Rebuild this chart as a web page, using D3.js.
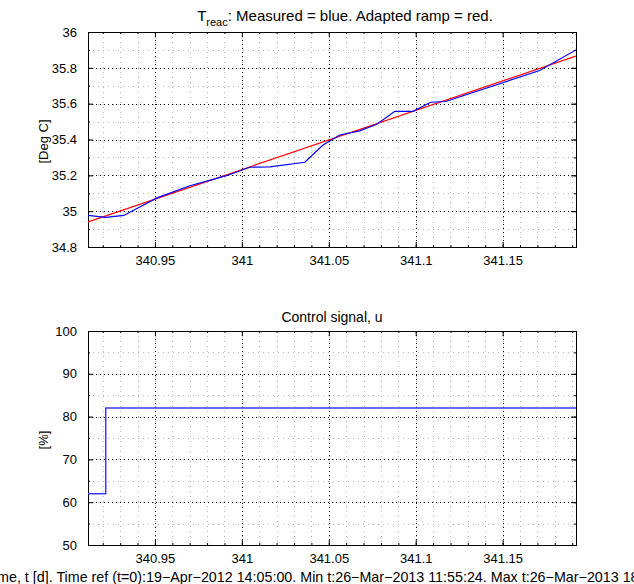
<!DOCTYPE html>
<html>
<head>
<meta charset="utf-8">
<script src="https://cdn.jsdelivr.net/npm/d3@7"></script>
<style>
  body { margin: 0; background: #fff; }
  text { font-family: "Liberation Sans", Arial, sans-serif; fill: #000; }
</style>
</head>
<body>
<svg id="chart" width="634" height="584"></svg>
<script>
// time axis [d]
var tMeasured = [340.9115, 340.9216, 340.9321, 340.941, 340.9512, 340.9701, 340.9912, 341.0046,
  341.0161, 341.0362, 341.0467, 341.0563, 341.0678, 341.0776, 341.088, 341.0985, 341.1086,
  341.1172, 341.1713, 341.1922];
var tempMeasured = [34.977, 34.965, 34.976, 35.022, 35.074, 35.142, 35.198, 35.245,
  35.247, 35.273, 35.369, 35.425, 35.448, 35.485, 35.557, 35.557, 35.608,
  35.612, 35.785, 35.90];
var tRamp = [340.9115, 341.1922];
var tempRamp = [34.94, 35.866];
var tControl = [340.9115, 340.9217, 341.1922];
var uControl = [62, 82, 82];

var xTicks = [340.95, 341, 341.05, 341.1, 341.15];
var tempTicks = [34.8, 35, 35.2, 35.4, 35.6, 35.8, 36];
var uTicks = [50, 60, 70, 80, 90, 100];

var xDomain = [340.9115, 341.1922];
var titleTop = "Measured = blue. Adapted ramp = red.";
var titleBottom = "Control signal, u";
var xLabel = "Time, t [d]. Time ref (t=0):19\u2212Apr\u22122012 14:05:00. Min t:26\u2212Mar\u22122013 11:55:24. Max t:26\u2212Mar\u22122013 18:41:31";

var svg = d3.select("#chart");
var left = 88, right = 576;
var tickFont = "13px", labelFont = "14px";

var xScale = d3.scaleLinear().domain(xDomain).range([left, right]);
var fmt = function (d) { return String(+d.toFixed(2)); };

function drawPanel(top, bottom, yDomain, yTicks, yMinorStep, ylabel) {
  var yScale = d3.scaleLinear().domain(yDomain).range([bottom, top]);
  var g = svg.append("g");

  var xMinor = d3.range(Math.ceil(xDomain[0] * 100), Math.floor(xDomain[1] * 100) + 1)
    .map(function (d) { return d / 100; });
  var nY = Math.round((yDomain[1] - yDomain[0]) / yMinorStep);
  var yMinor = d3.range(0, nY + 1).map(function (i) { return yDomain[0] + i * yMinorStep; });

  // minor grid
  g.selectAll(".xminor").data(xMinor).enter().append("line")
    .attr("x1", function (d) { return Math.round(xScale(d)) + 0.5; })
    .attr("x2", function (d) { return Math.round(xScale(d)) + 0.5; })
    .attr("y1", top).attr("y2", bottom)
    .attr("stroke", "#b4b4b4").attr("stroke-dasharray", "1,4");
  g.selectAll(".yminor").data(yMinor).enter().append("line")
    .attr("y1", function (d) { return Math.round(yScale(d)) + 0.5; })
    .attr("y2", function (d) { return Math.round(yScale(d)) + 0.5; })
    .attr("x1", left).attr("x2", right)
    .attr("stroke", "#b4b4b4").attr("stroke-dasharray", "1,4");

  // major grid
  g.selectAll(".xmajor").data(xTicks).enter().append("line")
    .attr("x1", function (d) { return Math.round(xScale(d)) + 0.5; })
    .attr("x2", function (d) { return Math.round(xScale(d)) + 0.5; })
    .attr("y1", top).attr("y2", bottom)
    .attr("stroke", "#000").attr("stroke-dasharray", "1,3");
  g.selectAll(".ymajor").data(yTicks).enter().append("line")
    .attr("y1", function (d) { return Math.round(yScale(d)) + 0.5; })
    .attr("y2", function (d) { return Math.round(yScale(d)) + 0.5; })
    .attr("x1", left).attr("x2", right)
    .attr("stroke", "#000").attr("stroke-dasharray", "1,3");

  // axes, ticks inward on all four sides
  function styleAxis(sel) {
    sel.selectAll("path").remove();
    sel.selectAll("line").attr("stroke", "#000");
    sel.selectAll("text").style("font-size", tickFont);
  }
  var xb = g.append("g").attr("transform", "translate(0," + bottom + ")")
    .call(d3.axisBottom(xScale).tickValues(xTicks).tickSize(-5).tickPadding(9).tickFormat(fmt));
  styleAxis(xb);
  var xt = g.append("g").attr("transform", "translate(0," + top + ")")
    .call(d3.axisTop(xScale).tickValues(xTicks).tickSize(-5).tickFormat(""));
  styleAxis(xt);
  var xbm = g.append("g").attr("transform", "translate(0," + bottom + ")")
    .call(d3.axisBottom(xScale).tickValues(xMinor).tickSize(-2).tickFormat(""));
  styleAxis(xbm);
  var xtm = g.append("g").attr("transform", "translate(0," + top + ")")
    .call(d3.axisTop(xScale).tickValues(xMinor).tickSize(-2).tickFormat(""));
  styleAxis(xtm);

  var yl = g.append("g").attr("transform", "translate(" + left + ",0)")
    .call(d3.axisLeft(yScale).tickValues(yTicks).tickSize(-5).tickPadding(11).tickFormat(fmt));
  styleAxis(yl);
  var yr = g.append("g").attr("transform", "translate(" + right + ",0)")
    .call(d3.axisRight(yScale).tickValues(yTicks).tickSize(-5).tickFormat(""));
  styleAxis(yr);
  var ylm = g.append("g").attr("transform", "translate(" + left + ",0)")
    .call(d3.axisLeft(yScale).tickValues(yMinor).tickSize(-2).tickFormat(""));
  styleAxis(ylm);
  var yrm = g.append("g").attr("transform", "translate(" + right + ",0)")
    .call(d3.axisRight(yScale).tickValues(yMinor).tickSize(-2).tickFormat(""));
  styleAxis(yrm);

  g.append("rect").attr("x", left + 0.5).attr("y", top + 0.5)
    .attr("width", right - left).attr("height", bottom - top)
    .attr("fill", "none").attr("stroke", "#000");

  g.append("text")
    .attr("transform", "translate(48," + ((top + bottom) / 2 + 2) + ") rotate(-90)")
    .attr("text-anchor", "middle").style("font-size", tickFont).text(ylabel);

  return yScale;
}

// top panel
var yTemp = drawPanel(32, 247, [34.8, 36], tempTicks, 0.1, "[Deg C]");
svg.append("clipPath").attr("id", "clipTop").append("rect")
  .attr("x", left).attr("y", 32).attr("width", right - left).attr("height", 215);

var rampLine = d3.line()
  .x(function (d, i) { return xScale(tRamp[i]); })
  .y(function (d) { return yTemp(d); });
svg.append("path").datum(tempRamp).attr("d", rampLine)
  .attr("fill", "none").attr("stroke", "#ff0000").attr("stroke-width", 1.2)
  .attr("clip-path", "url(#clipTop)");

var measLine = d3.line()
  .x(function (d, i) { return xScale(tMeasured[i]); })
  .y(function (d) { return yTemp(d); });
svg.append("path").datum(tempMeasured).attr("d", measLine)
  .attr("fill", "none").attr("stroke", "#0000ff").attr("stroke-width", 1.2)
  .attr("clip-path", "url(#clipTop)");

var t1 = svg.append("text").attr("x", 345).attr("y", 21)
  .attr("text-anchor", "middle").style("font-size", "15px");
t1.append("tspan").text("T");
t1.append("tspan").attr("dy", 5).style("font-size", "11px").text("reac");
t1.append("tspan").attr("dy", -5).text(": " + titleTop);

// bottom panel
var yU = drawPanel(331, 545, [50, 100], uTicks, 5, "[%]");
var uLine = d3.line()
  .x(function (d, i) { return xScale(tControl[i]); })
  .y(function (d) { return yU(d); })
  .curve(d3.curveStepAfter);
svg.append("path").datum(uControl).attr("d", uLine)
  .attr("fill", "none").attr("stroke", "#3a3aff").attr("stroke-width", 1.5);

svg.append("text").attr("x", 332).attr("y", 322)
  .attr("text-anchor", "middle").style("font-size", labelFont).text(titleBottom);

// the reference axis label runs past both edges of the figure
svg.append("text").attr("x", 332).attr("y", 582)
  .attr("text-anchor", "middle").style("font-size", "14.3px").text(xLabel);
</script>
</body>
</html>
